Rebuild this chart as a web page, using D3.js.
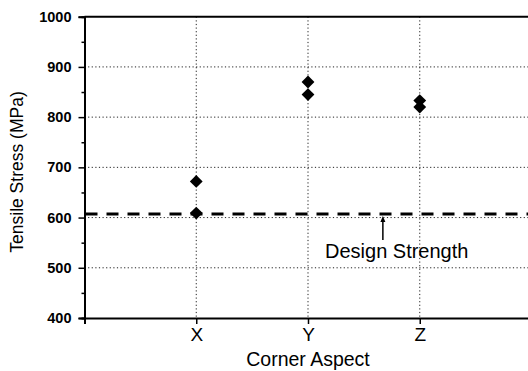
<!DOCTYPE html>
<html>
<head>
<meta charset="utf-8">
<script src="https://cdn.jsdelivr.net/npm/d3@7"></script>
<style>
  body { margin: 0; background: #fff; }
  svg { display: block; font-family: "Liberation Sans", Arial, sans-serif; }
</style>
</head>
<body>
<div id="chart"></div>
<script>
// categories and measured values
var categories = ["X", "Y", "Z"];
var catPos = [1, 2, 3];
var lowValues = [609, 845, 820];
var highValues = [672, 870, 833];
var yTicks = [400, 500, 600, 700, 800, 900, 1000];
var yMinorTicks = [450, 550, 650, 750, 850, 950];
var designStrength = [607];

var width = 528, height = 371;
var margin = {left: 84.5, top: 16.7, bottom: 53, right: -3.5};

var svg = d3.select("#chart").append("svg")
    .attr("width", width)
    .attr("height", height);

var x = d3.scaleLinear().domain([0, 4]).range([margin.left, width - margin.right]);
var y = d3.scaleLinear().domain([400, 1000]).range([height - margin.bottom, margin.top]);

var grid = svg.append("g").attr("class", "grid")
    .attr("stroke", "#222").attr("stroke-width", 1).attr("stroke-dasharray", "1.2,2.4");

grid.selectAll(".hg")
    .data(yTicks.filter(function(d) { return d > 400 && d < 1000; }))
    .enter().append("line")
    .attr("x1", x(0)).attr("x2", width)
    .attr("y1", function(d) { return y(d); })
    .attr("y2", function(d) { return y(d); });

grid.selectAll(".vg")
    .data(catPos)
    .enter().append("line")
    .attr("x1", function(d) { return x(d); })
    .attr("x2", function(d) { return x(d); })
    .attr("y1", y(1000)).attr("y2", y(400));

// design strength dashed line
svg.selectAll(".ds")
    .data(designStrength)
    .enter().append("line")
    .attr("x1", x(0) + 1).attr("x2", width)
    .attr("y1", function(d) { return y(d); })
    .attr("y2", function(d) { return y(d); })
    .attr("stroke", "#000")
    .attr("stroke-width", 3)
    .attr("stroke-dasharray", "12,9");

// axes
var yAxis = d3.axisLeft(y).tickValues(yTicks).tickSize(6).tickPadding(7).tickFormat(d3.format("d"));
var yMinor = d3.axisLeft(y).tickValues(yMinorTicks).tickSize(3).tickFormat("");
var xAxis = d3.axisBottom(x).tickValues(catPos).tickSize(6).tickPadding(4)
    .tickFormat(function(d, i) { return categories[i]; });

var gy = svg.append("g").attr("transform", "translate(" + x(0) + ",0)").call(yAxis);
gy.selectAll("text").attr("font-size", 14.5).attr("font-weight", "bold").attr("fill", "#000");
var gym = svg.append("g").attr("transform", "translate(" + x(0) + ",0)").call(yMinor);

var gx = svg.append("g").attr("transform", "translate(0," + y(400) + ")").call(xAxis);
gx.selectAll("text").attr("font-size", 19).attr("fill", "#000");

[gy, gym, gx].forEach(function(g) {
    g.select(".domain").attr("stroke", "#000").attr("stroke-width", 2);
    g.selectAll(".tick line").attr("stroke", "#000").attr("stroke-width", 1.5);
});

// top border
svg.append("line")
    .attr("x1", x(0)).attr("x2", width)
    .attr("y1", y(1000)).attr("y2", y(1000))
    .attr("stroke", "#000").attr("stroke-width", 2);

// data points
var pts = [];
categories.forEach(function(c, i) {
    pts.push({x: catPos[i], v: lowValues[i]});
    pts.push({x: catPos[i], v: highValues[i]});
});
var sym = d3.symbol().type(d3.symbolSquare).size(82);
svg.selectAll(".pt")
    .data(pts)
    .enter().append("path")
    .attr("d", sym)
    .attr("transform", function(d) { return "translate(" + x(d.x) + "," + y(d.v) + ") rotate(45)"; })
    .attr("fill", "#000");

// annotation
var ax = x(2.67);
svg.append("line")
    .attr("x1", ax).attr("x2", ax)
    .attr("y1", y(designStrength[0]) + 26).attr("y2", y(designStrength[0]) + 5)
    .attr("stroke", "#000").attr("stroke-width", 1.5);
svg.append("path")
    .attr("d", "M" + (ax - 2.5) + "," + (y(designStrength[0]) + 8) + "L" + ax + "," + (y(designStrength[0]) + 2) + "L" + (ax + 2.5) + "," + (y(designStrength[0]) + 8) + "Z")
    .attr("fill", "#000");
svg.append("text")
    .attr("x", 325).attr("y", 258)
    .attr("font-size", 20)
    .text("Design Strength");

// axis titles
svg.append("text")
    .attr("x", x(2)).attr("y", 366)
    .attr("text-anchor", "middle")
    .attr("font-size", 19.5)
    .text("Corner Aspect");
svg.append("text")
    .attr("transform", "translate(23,172) rotate(-90)")
    .attr("text-anchor", "middle")
    .attr("font-size", 17.5)
    .text("Tensile Stress (MPa)");
</script>
</body>
</html>
